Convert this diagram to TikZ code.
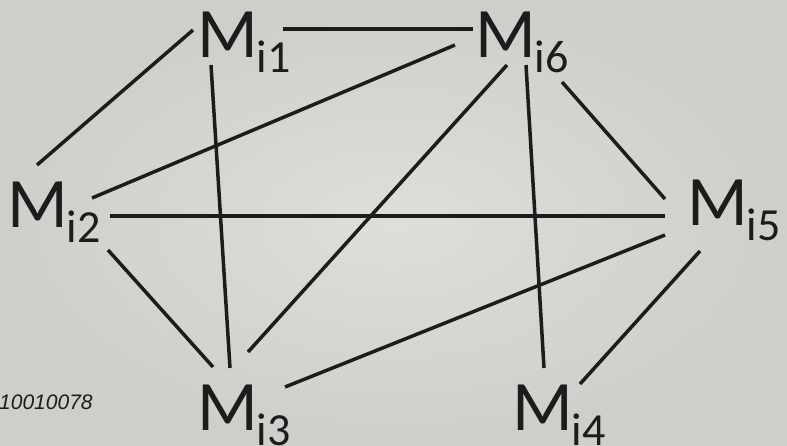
\documentclass[tikz,border=0pt]{standalone}
\usepackage{fontspec}
\setmainfont{Carlito}
\newfontfamily\tagfont{Liberation Sans}
\usetikzlibrary{calc}
\definecolor{bgin}{RGB}{222,222,218}
\definecolor{bgout}{RGB}{206,207,202}
\definecolor{ink}{RGB}{28,28,28}
\newcommand{\Mi}[1]{M\kern-1pt\raisebox{-15pt}{\fontsize{46}{46}\selectfont i#1}}

\begin{document}
\begin{tikzpicture}[x=1pt,y=-1pt,
    mnode/.style={inner sep=0pt, anchor=base west, text=ink,
      font=\fontsize{71}{71}\selectfont},
    link/.style={draw=ink, line width=3.5pt}]
  \shade[inner color=bgin, outer color=bgout] (0,0) rectangle (787,445);
  \useasboundingbox (0,0) rectangle (787,445);
  % machines
  \node[mnode] (i1) at (197,57) {\Mi{1}};
  \node[mnode] (i6) at (475,57) {\Mi{6}};
  \node[mnode] (i2) at (7,227) {\Mi{2}};
  \node[mnode] (i5) at (687,225) {\Mi{5}};
  \node[mnode] (i3) at (197,430) {\Mi{3}};
  \node[mnode] (i4) at (512,430) {\Mi{4}};
  \node[anchor=west, inner sep=0pt, text=ink, font=\tagfont\itshape\fontsize{21}{21}\selectfont]
    (tag) at (-1,402) {10010078};
  % links
  \draw[link] ([shift={(-4,-27)}]i1.base west) -- ([shift={(30,-62)}]i2.base west);
  \draw[link] ([shift={(86,-28)}]i1.base west) -- ([shift={(-2,-28)}]i6.base west);
  \draw[link] ([shift={(14,8)}]i1.base west) -- ([shift={(33,-62)}]i3.base west);
  \draw[link] ([shift={(85,-29)}]i2.base west) -- ([shift={(-20,-12)}]i6.base west);
  \draw[link] ([shift={(103,-11)}]i2.base west) -- ([shift={(-22,-9)}]i5.base west);
  \draw[link] ([shift={(101,23)}]i2.base west) -- ([shift={(16,-63)}]i3.base west);
  \draw[link] ([shift={(32,8)}]i6.base west) -- ([shift={(51,-78)}]i3.base west);
  \draw[link] ([shift={(51,8)}]i6.base west) -- ([shift={(32,-62)}]i4.base west);
  \draw[link] ([shift={(87,25)}]i6.base west) -- ([shift={(-22,-26)}]i5.base west);
  \draw[link] ([shift={(-22,10)}]i5.base west) -- ([shift={(88,-43)}]i3.base west);
  \draw[link] ([shift={(13,26)}]i5.base west) -- ([shift={(68,-46)}]i4.base west);
\end{tikzpicture}
\end{document}
